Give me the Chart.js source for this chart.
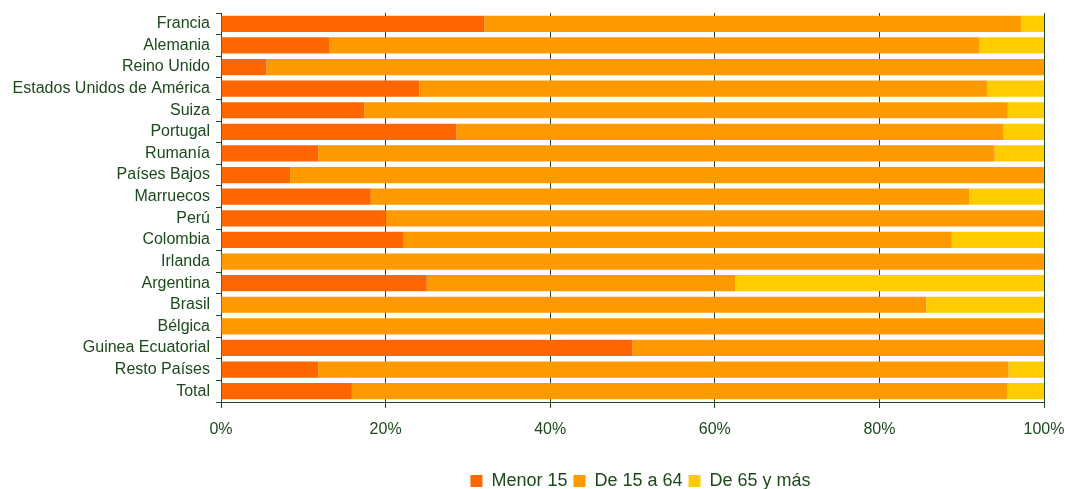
<!DOCTYPE html>
<html>
<head>
<meta charset="utf-8">
<script src="https://cdn.jsdelivr.net/npm/chart.js@4/dist/chart.umd.min.js"></script>
<style>
  html, body { margin: 0; padding: 0; background: #fff; overflow: hidden; }
  #wrap { width: 1065px; height: 489px; }
</style>
</head>
<body>
<div id="wrap"><canvas id="bar-chart"></canvas></div>
<script>
var paises = ["Francia", "Alemania", "Reino Unido", "Estados Unidos de América", "Suiza", "Portugal",
  "Rumanía", "Países Bajos", "Marruecos", "Perú", "Colombia", "Irlanda", "Argentina", "Brasil",
  "Bélgica", "Guinea Ecuatorial", "Resto Países", "Total"];

var menor15 = [32.0, 13.2, 5.5, 24.1, 17.4, 28.6, 11.8, 8.4, 18.2, 20.0, 22.2, 0, 25.0, 0, 0, 50.0, 11.8, 15.9];
var de15a64 = [65.2, 78.9, 94.5, 69.0, 78.2, 66.5, 82.2, 91.6, 72.7, 80.0, 66.6, 100, 37.5, 85.7, 100, 50.0, 83.9, 79.6];
var de65ymas = [2.8, 7.9, 0, 6.9, 4.4, 4.9, 6.0, 0, 9.1, 0, 11.2, 0, 37.5, 14.3, 0, 0, 4.3, 4.5];

var xTicks = [0, 20, 40, 60, 80, 100];

(function () {
  'use strict';

  var verde = "#1c4a1c";
  var font = { family: "'Liberation Sans', Arial, sans-serif", size: 16 };

  //Set the chart colors
  var color1 = "#ff6600";
  var color2 = "#ff9900";
  var color3 = "#ffcc00";

  // legend centred under the plot area, a bit lower
  var legendPos = {
    id: 'legendPos',
    afterLayout: function (chart) {
      var lg = chart.legend, area = chart.chartArea;
      if (!lg) return;
      lg.left = area.left + 16;
      lg.right = area.right;
      lg.width = lg.right - lg.left;
      lg.top += 11;
      lg.bottom += 11;
    }
  };

  var ctx = document.getElementById("bar-chart");

  var data = {
    labels: paises,
    datasets: [
      { label: "Menor 15", data: menor15, backgroundColor: color1 },
      { label: "De 15 a 64", data: de15a64, backgroundColor: color2 },
      { label: "De 65 y más", data: de65ymas, backgroundColor: color3 }
    ]
  };

  new Chart(ctx, {
    type: 'bar',
    data: data,
    plugins: [legendPos],
    options: {
      indexAxis: 'y',
      responsive: true,
      maintainAspectRatio: false,
      animation: false,
      datasets: {
        bar: { categoryPercentage: 1, barPercentage: 0.75, borderWidth: 0 }
      },
      layout: { padding: { top: 13, right: 21, bottom: 0, left: 0 } },
      plugins: {
        tooltip: { enabled: false },
        legend: {
          position: 'bottom',
          labels: {
            color: verde,
            font: { family: font.family, size: 18 },
            boxWidth: 12,
            boxHeight: 12,
            padding: 6
          }
        }
      },
      scales: {
        x: {
          stacked: true,
          min: 0,
          max: 100,
          afterBuildTicks: function (s) {
            s.ticks = xTicks.map(function (v) { return { value: v }; });
          },
          afterFit: function (s) {
            s.height = 53;
            s.paddingLeft = 0;
            s.paddingRight = 0;
          },
          border: { color: verde, width: 1 },
          grid: { color: verde, lineWidth: 1, tickLength: 6, drawOnChartArea: true },
          ticks: {
            color: verde,
            font: font,
            padding: 12,
            maxRotation: 0,
            callback: function (v) { return v + "%"; }
          }
        },
        y: {
          stacked: true,
          afterFit: function (s) {
            s.width = 221;
            s.paddingTop = 0;
            s.paddingBottom = 0;
          },
          border: { color: verde, width: 1 },
          grid: { color: verde, lineWidth: 1, tickLength: 5, drawOnChartArea: false, offset: true },
          ticks: { color: verde, font: font, padding: 6, autoSkip: false }
        }
      }
    }
  });
})();
</script>
</body>
</html>
